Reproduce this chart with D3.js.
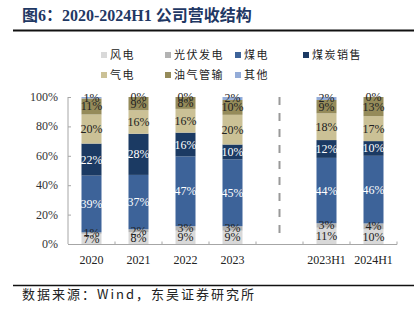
<!DOCTYPE html>
<html><head><meta charset="utf-8">
<script src="https://cdn.jsdelivr.net/npm/d3@7"></script>
<style>
html,body{margin:0;padding:0;background:#fff;}
svg{display:block;}
</style></head>
<body>
<svg id="c" width="420" height="323"></svg>
<script>
const categories = ["2020","2021","2022","2023","","2023H1","2024H1"];
const seriesNames = ["风电","光伏发电","煤电","煤炭销售","气电","油气管输","其他"];
const wind   = [7, 8, 9, 9, null, 11, 10];
const solar  = [1, 2, 3, 3, null, 3, 4];
const coalPw = [39, 37, 47, 45, null, 44, 46];
const coalSl = [22, 28, 16, 10, null, 12, 10];
const gasPw  = [20, 16, 16, 20, null, 18, 17];
const pipe   = [11, 9, 8, 10, null, 9, 13];
const other  = [1, 0, 0, 2, null, 2, 0];
const yTicks = [0, 0.2, 0.4, 0.6, 0.8, 1.0];

const colors = ["#d9d9d9","#b3b3b3","#3d6399","#1b3a63","#cbc196","#958b5a","#94acd8"];
const labelColors = ["#222","#222","#fff","#fff","#222","#222","#222"];
const seriesVals = [wind, solar, coalPw, coalSl, gasPw, pipe, other];

const svg = d3.select("#c");
const serif = "'Liberation Serif','Times New Roman',serif";
const cjk = "'Liberation Serif','Noto Sans CJK SC',serif";

// title
const title = svg.append("text").attr("x",22).attr("y",21)
  .attr("font-family",cjk).attr("font-weight","bold").attr("font-size",16)
  .attr("fill","#1f3864");
title.append("tspan").text("图6：");
title.append("tspan").text("2020-2024H1 公司营收结构");
svg.append("line").attr("x1",13).attr("x2",414).attr("y1",30.5).attr("y2",30.5)
  .attr("stroke","#111").attr("stroke-width",2);

// legend
const legendPos = [[101,58],[165,58],[235,58],[303,58],[101,78],[165,78],[235,78]];
seriesNames.forEach((n,i)=>{
  const [lx,ly] = legendPos[i];
  svg.append("rect").attr("x",lx).attr("y",ly-6).attr("width",6).attr("height",6).attr("fill",colors[i]);
  svg.append("text").attr("x",lx+9).attr("y",ly+1).attr("font-family","'Noto Sans CJK SC',sans-serif")
    .attr("font-size",11).attr("letter-spacing",1.5).attr("fill","#222").text(n);
});

// data table
const rows = categories.map((c,j)=>{
  const r = {cat:c};
  seriesNames.forEach((s,i)=>{ r[s] = seriesVals[i][j] == null ? 0 : seriesVals[i][j]; });
  return r;
}).filter(r=>r.cat!=="");

const x = d3.scaleBand().domain(categories).range([68,397]).paddingInner(0).paddingOuter(0);
const y = d3.scaleLinear().domain([0,1]).range([244,97]);
const barW = 20;

const stack = d3.stack().keys(seriesNames).offset(d3.stackOffsetExpand);
const stacked = stack(rows);

const g = svg.append("g");
stacked.forEach((layer,i)=>{
  g.selectAll(null).data(layer).enter().append("rect")
    .attr("x",d=>x(d.data.cat)+x.bandwidth()/2-barW/2)
    .attr("width",barW)
    .attr("y",d=>y(d[1]))
    .attr("height",d=>Math.max(0,y(d[0])-y(d[1])))
    .attr("fill",colors[i]);
});
stacked.forEach((layer,i)=>{
  g.selectAll(null).data(layer).enter().append("text")
    .attr("x",d=>x(d.data.cat)+x.bandwidth()/2)
    .attr("y",d=>(y(d[0])+y(d[1]))/2+4)
    .attr("text-anchor","middle")
    .attr("font-family",serif).attr("font-size",12)
    .attr("fill",labelColors[i])
    .text(d=>d.data[layer.key]+"%");
});

// y axis
const yAxis = d3.axisRight(y).tickValues(yTicks).tickSize(3).tickFormat("");
const ya = svg.append("g").attr("transform","translate(68,0)").call(yAxis);
ya.selectAll("path,line").attr("stroke","#a6a6a6");
ya.select(".domain").attr("d","M0,97V244");
yTicks.forEach(t=>{
  svg.append("text").attr("x",58).attr("y",y(t)+4).attr("text-anchor","end")
    .attr("font-family",serif).attr("font-size",12).attr("fill","#333")
    .text(d3.format(".0%")(t));
});

// x axis
svg.append("line").attr("x1",68).attr("x2",397).attr("y1",244.5).attr("y2",244.5).attr("stroke","#a6a6a6");
categories.forEach((c,j)=>{
  const bx = x(c)+x.bandwidth();
  svg.append("line").attr("x1",bx).attr("x2",bx).attr("y1",244.5).attr("y2",241.5).attr("stroke","#a6a6a6");
  if(c) svg.append("text").attr("x",x(c)+x.bandwidth()/2).attr("y",264).attr("text-anchor","middle")
    .attr("font-family",serif).attr("font-size",12).attr("fill","#222").text(c);
});

// dashed separator
const gx = x("")+x.bandwidth()/2;
svg.append("line").attr("x1",gx).attr("x2",gx).attr("y1",97).attr("y2",240)
  .attr("stroke","#999").attr("stroke-width",2).attr("stroke-dasharray","8,8");

// bottom
svg.append("line").attr("x1",13).attr("x2",414).attr("y1",285.5).attr("y2",285.5)
  .attr("stroke","#111").attr("stroke-width",1.5);
svg.append("text").attr("x",22).attr("y",299).attr("font-family","'Noto Sans CJK SC',sans-serif")
  .attr("font-size",13).attr("letter-spacing",2).attr("fill","#222").text("数据来源：Wind，东吴证券研究所");
</script>
</body></html>
